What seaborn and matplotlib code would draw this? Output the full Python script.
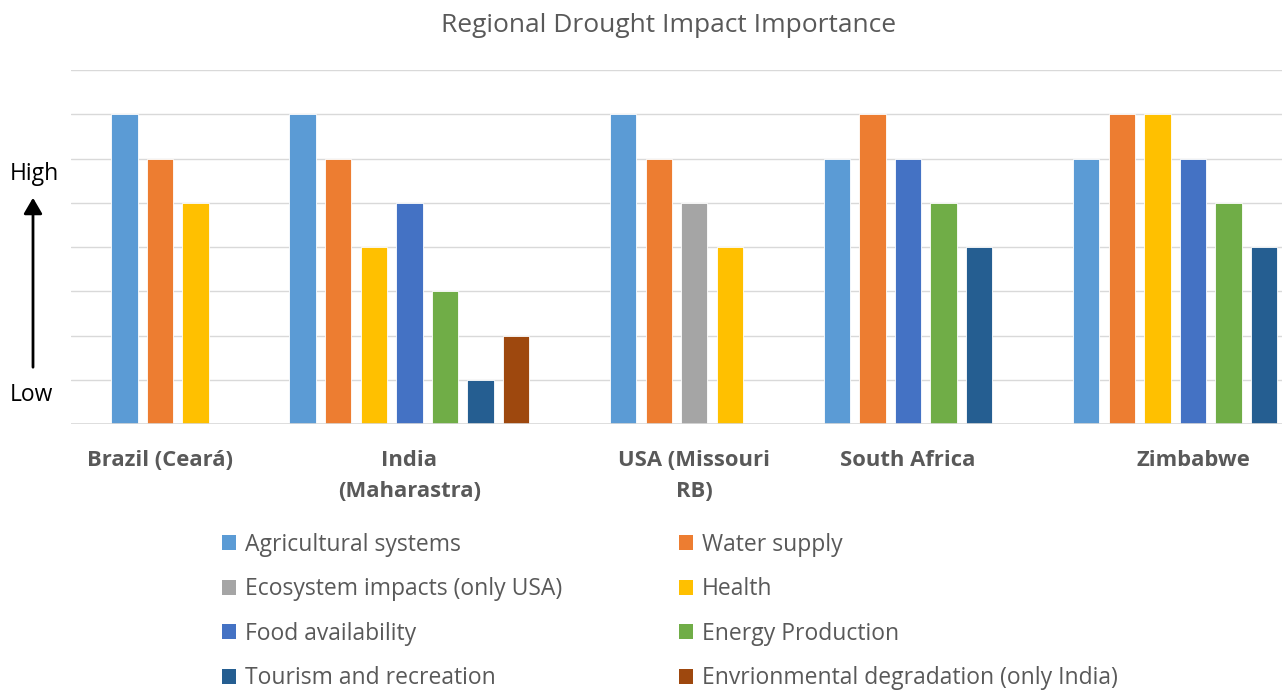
import matplotlib
matplotlib.use("Agg")
import matplotlib.pyplot as plt
from matplotlib.patches import Patch
import seaborn as sns
import pandas as pd

# ---- data ----
regions = ["Brazil (Ceará)", "India\n(Maharastra)", "USA (Missouri\nRB)", "South Africa", "Zimbabwe"]
impacts = ["Agricultural systems", "Water supply", "Ecosystem impacts (only USA)", "Health",
           "Food availability", "Energy Production", "Tourism and recreation",
           "Envrionmental degradation (only India)"]
colors = ["#5B9BD5", "#ED7D31", "#A5A5A5", "#FFC000", "#4472C4", "#70AD47", "#255E91", "#9E480E"]

brazil_impacts = ["Agricultural systems", "Water supply", "Health"]
brazil_values = [7, 6, 5]
india_impacts = ["Agricultural systems", "Water supply", "Health", "Food availability",
                 "Energy Production", "Tourism and recreation", "Envrionmental degradation (only India)"]
india_values = [7, 6, 4, 5, 3, 1, 2]
usa_impacts = ["Agricultural systems", "Water supply", "Ecosystem impacts (only USA)", "Health"]
usa_values = [7, 6, 5, 4]
safrica_impacts = ["Agricultural systems", "Water supply", "Food availability", "Energy Production",
                   "Tourism and recreation"]
safrica_values = [6, 7, 6, 5, 4]
zimbabwe_impacts = ["Agricultural systems", "Water supply", "Health", "Food availability",
                    "Energy Production", "Tourism and recreation"]
zimbabwe_values = [6, 7, 7, 6, 5, 4]

group_impacts = [brazil_impacts, india_impacts, usa_impacts, safrica_impacts, zimbabwe_impacts]
group_values = [brazil_values, india_values, usa_values, safrica_values, zimbabwe_values]

# ---- layout (slot positions) ----
lead_gap = 1
group_gap = 2
label_offsets = [1, 3, 2, 2, 3]

rows = []
label_slots = []
slot = lead_gap
for reg, imps, vals, off in zip(regions, group_impacts, group_values, label_offsets):
    label_slots.append(slot + off)
    for imp, v in zip(imps, vals):
        rows.append({"slot": slot, "value": v, "impact": imp, "region": reg})
        slot += 1
    slot += group_gap
n_slots = slot - group_gap
df = pd.DataFrame(rows)

sns.set_theme(style="white")
plt.rcParams["font.family"] = ["Open Sans", "DejaVu Sans"]

txt = "#595959"
grid = "#D9D9D9"

fig = plt.figure(figsize=(12.82, 6.93), dpi=100)
ax = fig.add_axes([71 / 1282, 1 - 424 / 693, 1211 / 1282, (424 - 70) / 693])

palette = dict(zip(impacts, colors))
sns.barplot(data=df, x="slot", y="value", hue="impact", hue_order=impacts, palette=palette,
            native_scale=True, dodge=False, width=0.74, edgecolor="white", linewidth=0.6,
            saturation=1, legend=False, ax=ax, zorder=3)

ax.set_xlim(-0.5, n_slots - 0.5)
ax.set_ylim(0, 8)
ax.set_yticks(range(0, 9))
ax.set_yticklabels([])
ax.tick_params(axis="y", length=0)
ax.yaxis.grid(True, color=grid, linewidth=1.0, zorder=0)
ax.xaxis.grid(False)
ax.set_axisbelow(True)
for s in ax.spines.values():
    s.set_visible(False)
ax.axhline(0, color=grid, linewidth=1.2, zorder=4)

ax.set_xticks(label_slots)
ax.set_xticklabels(regions, fontsize=15.8, fontweight="bold", color=txt, linespacing=1.62,
                   va="top")
ax.tick_params(axis="x", length=0, pad=18.5)
ax.set_xlabel("")
ax.set_ylabel("")

fig.text(669 / 1282, 1 - 26 / 693, "Regional Drought Impact Importance", ha="center", va="center",
         fontsize=19, color=txt)

# High / Low annotation
fig.text(10 / 1282, 1 - 174 / 693, "High", ha="left", va="center", fontsize=16.5, color="black")
fig.text(10 / 1282, 1 - 395 / 693, "Low", ha="left", va="center", fontsize=16.5, color="black")
fig.add_artist(matplotlib.patches.FancyArrowPatch(
    (33 / 1282, 1 - 370 / 693), (33 / 1282, 1 - 195 / 693), transform=fig.transFigure,
    arrowstyle="-|>,head_length=6,head_width=3.5", color="black", linewidth=2, mutation_scale=1.6))

# legend (column-major order for two columns)
order = [0, 2, 4, 6, 1, 3, 5, 7]
handles = [Patch(facecolor=colors[i], edgecolor="none", label=impacts[i]) for i in order]
leg = fig.legend(handles=handles, ncol=2, loc="upper left",
                 bbox_to_anchor=(201 / 1282, 1 - 512 / 693), frameon=False,
                 fontsize=16.5, handlelength=0.61, handleheight=0.61, handletextpad=0.4,
                 labelspacing=0.9, columnspacing=5.1)
for t in leg.get_texts():
    t.set_color(txt)

fig.savefig("out.png", dpi=100)
